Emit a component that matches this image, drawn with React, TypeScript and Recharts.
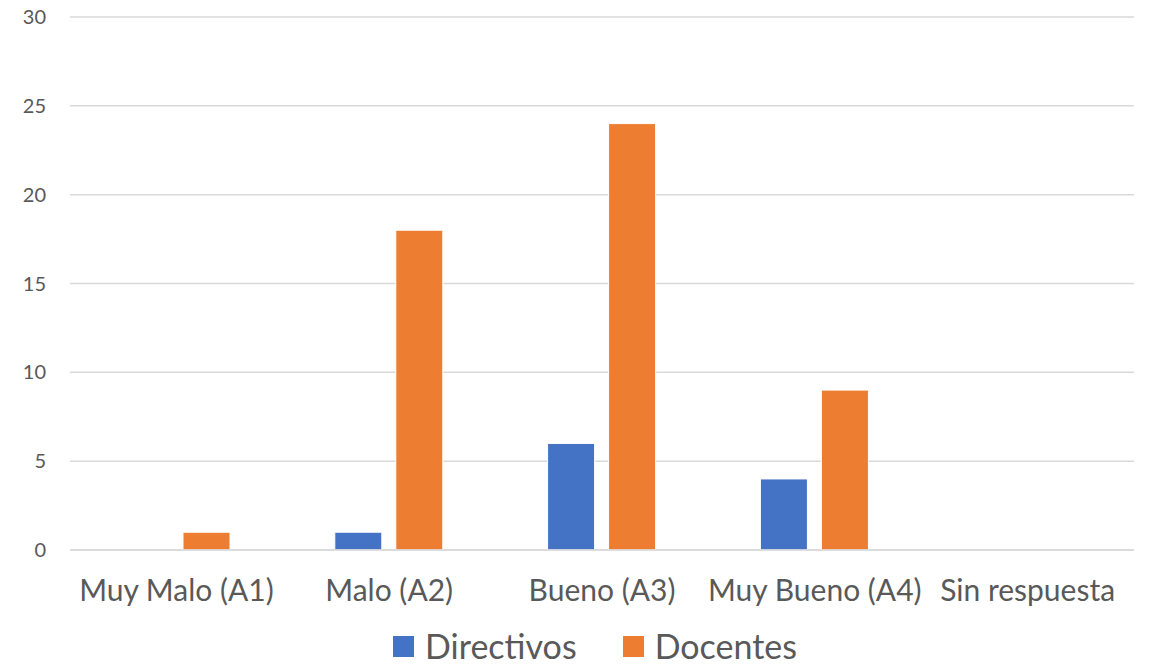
import { Bar, BarChart, CartesianGrid, Legend, XAxis, YAxis } from "recharts";

const categories = ["Muy Malo (A1)", "Malo (A2)", "Bueno (A3)", "Muy Bueno (A4)", "Sin respuesta"];
const directivos = [0, 1, 6, 4, 0];
const docentes = [1, 18, 24, 9, 0];
const yTicks = [0, 5, 10, 15, 20, 25, 30];

const data = categories.map((name, i) => ({
  name,
  Directivos: directivos[i],
  Docentes: docentes[i],
}));

const FONT = "Lato, 'Noto Sans', sans-serif";
const TEXT = "#595959";
const series = [
  { key: "Directivos", color: "#4472C4" },
  { key: "Docentes", color: "#ED7D31" },
];

function LegendBox() {
  return (
    <div
      style={{
        height: 36, display: "flex", alignItems: "center", justifyContent: "center",
        paddingLeft: 46, fontFamily: FONT, fontSize: 34, color: TEXT, gap: 46,
      }}
    >
      {series.map((s) => (
        <div key={s.key} style={{ display: "flex", alignItems: "center", gap: 11 }}>
          <span style={{ width: 21, height: 21, background: s.color, display: "inline-block" }} />
          <span style={{ lineHeight: "36px" }}>{s.key}</span>
        </div>
      ))}
    </div>
  );
}

export default function App() {
  return (
    <div style={{ position: "absolute", left: 0, top: 0, background: "#fff", fontFamily: FONT }}>
      <BarChart
        width={1149}
        height={664}
        data={data}
        margin={{ top: 17, right: 15, bottom: 0, left: 10 }}
        barSize={47}
        barGap={14}
      >
        <CartesianGrid vertical={false} stroke="#d9d9d9" strokeWidth={1.5} />
        <XAxis
          dataKey="name"
          axisLine={{ stroke: "#d9d9d9", strokeWidth: 1.5 }}
          tickLine={false}
          tickMargin={24}
          height={78}
          interval={0}
          tick={{ fill: TEXT, fontSize: 30, fontFamily: FONT }}
        />
        <YAxis
          width={60}
          domain={[0, 30]}
          ticks={yTicks}
          axisLine={false}
          tickLine={false}
          tickMargin={18}
          tick={{ fill: TEXT, fontSize: 20, fontFamily: FONT }}
        />
        <Legend verticalAlign="bottom" height={36} content={() => <LegendBox />} />
        <Bar dataKey="Directivos" fill="#4472C4" stroke="#fff" strokeWidth={1} isAnimationActive={false} />
        <Bar dataKey="Docentes" fill="#ED7D31" stroke="#fff" strokeWidth={1} isAnimationActive={false} />
      </BarChart>
    </div>
  );
}
